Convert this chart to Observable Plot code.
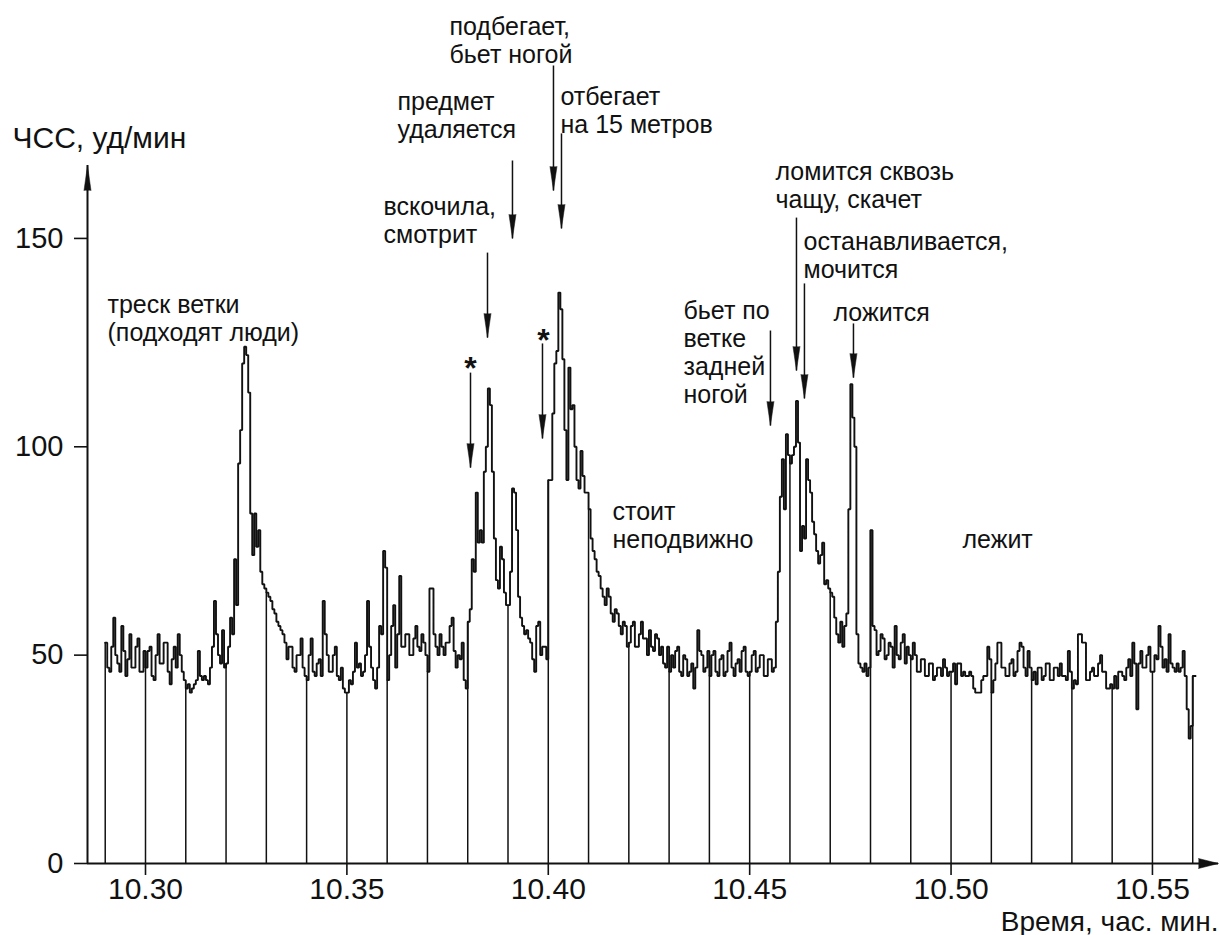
<!DOCTYPE html>
<html>
<head>
<meta charset="utf-8">
<script src="https://cdn.jsdelivr.net/npm/d3@7"></script>
<script src="https://cdn.jsdelivr.net/npm/@observablehq/plot@0.6"></script>
<style>
  html, body { margin: 0; padding: 0; background: #fff; }
  #chart { width: 1220px; height: 935px; }
</style>
</head>
<body>
<div id="chart"></div>
<script>
// ---- data -------------------------------------------------------------
// minute marks (час.мин) and heart-rate samples read every 0.0005 within each minute
const minuteMarks = [10.29, 10.30, 10.31, 10.32, 10.33, 10.34, 10.35, 10.36, 10.37, 10.38,
                     10.39, 10.40, 10.41, 10.42, 10.43, 10.44, 10.45, 10.46, 10.47, 10.48,
                     10.49, 10.50, 10.51, 10.52, 10.53, 10.54, 10.55];
const hrPerMinute = [
  [53, 47, 46, 52, 59, 50, 48, 46, 57, 51, 45, 49, 55, 47, 47, 52, 54, 46, 46, 51],
  [47, 51, 52, 45, 44, 50, 55, 48, 48, 53, 53, 46, 43, 49, 52, 47, 55, 50, 46, 44],
  [42, 43, 41, 42, 43, 44, 51, 45, 44, 45, 44, 43, 47, 52, 63, 55, 50, 48, 56, 47],
  [48, 52, 59, 55, 73, 62, 96, 104, 120, 124, 122, 113, 84, 74, 84, 76, 80, 70, 67, 66],
  [65, 64, 63, 61, 60, 58, 57, 56, 55, 53, 49, 52, 52, 47, 46, 50, 50, 54, 47, 45],
  [44, 50, 54, 46, 45, 48, 49, 45, 63, 55, 50, 46, 46, 50, 52, 45, 44, 47, 42, 41],
  [41, 44, 43, 46, 53, 47, 48, 45, 46, 50, 63, 52, 47, 44, 42, 47, 57, 55, 75, 71],
  [44, 50, 57, 62, 47, 55, 69, 52, 52, 55, 55, 50, 50, 54, 57, 52, 51, 55, 53, 50],
  [46, 66, 66, 55, 52, 50, 55, 52, 50, 53, 53, 57, 59, 51, 47, 50, 49, 53, 44, 42],
  [58, 61, 73, 70, 89, 77, 80, 77, 94, 100, 114, 110, 94, 78, 68, 66, 76, 73, 65, 62],
  [62, 70, 90, 89, 80, 64, 59, 57, 55, 56, 54, 53, 49, 46, 57, 58, 50, 52, 52, 49],
  [92, 92, 108, 120, 123, 137, 133, 121, 104, 92, 119, 109, 110, 100, 92, 90, 99, 93, 89, 89],
  [85, 78, 75, 73, 70, 69, 66, 64, 62, 66, 64, 60, 58, 61, 60, 57, 55, 58, 57, 52],
  [53, 57, 58, 52, 52, 55, 58, 54, 54, 50, 56, 52, 51, 55, 54, 50, 52, 48, 47, 52],
  [46, 50, 47, 51, 52, 46, 45, 50, 49, 45, 46, 48, 42, 47, 56, 51, 50, 46, 47, 51],
  [45, 50, 51, 46, 45, 49, 50, 45, 46, 51, 53, 47, 45, 48, 49, 46, 51, 52, 46, 45],
  [46, 50, 51, 46, 47, 50, 50, 45, 45, 49, 49, 46, 47, 58, 70, 88, 97, 85, 103, 98],
  [96, 98, 100, 111, 101, 75, 81, 78, 97, 92, 89, 82, 79, 75, 72, 74, 77, 67, 68, 66],
  [65, 64, 59, 55, 53, 58, 52, 57, 60, 85, 115, 107, 100, 55, 48, 47, 46, 48, 45, 47],
  [80, 57, 56, 50, 51, 55, 54, 49, 50, 53, 52, 47, 57, 50, 49, 53, 55, 48, 52, 50],
  [49, 53, 50, 46, 46, 49, 49, 45, 45, 48, 48, 44, 45, 47, 47, 45, 49, 47, 45, 46],
  [46, 48, 43, 48, 48, 45, 46, 45, 45, 46, 45, 42, 41, 41, 41, 44, 45, 45, 52, 49],
  [41, 44, 48, 53, 53, 47, 47, 45, 45, 48, 49, 45, 46, 51, 53, 52, 47, 45, 51, 47],
  [44, 46, 43, 47, 47, 44, 45, 48, 48, 44, 44, 47, 47, 45, 48, 45, 45, 44, 51, 46],
  [42, 44, 43, 55, 55, 53, 53, 44, 44, 46, 47, 45, 45, 48, 50, 46, 46, 42, 42, 43],
  [42, 45, 42, 46, 46, 45, 44, 47, 49, 45, 53, 48, 37, 48, 51, 47, 47, 50, 52, 46],
  [46, 50, 49, 57, 52, 47, 49, 46, 55, 48, 47, 46, 48, 46, 47, 51, 45, 37, 30, 33]
];
const sampleStep = 0.0005;
const lastMark = 10.56, lastValue = 45, traceEnd = 10.5607;

const xTicks = [10.30, 10.35, 10.40, 10.45, 10.50, 10.55];
const yTicks = [0, 50, 100, 150];
const xDomain = [10.2856, 10.5664];
const yDomain = [0, 167.5];

// annotations (data units: time, ЧСС) — text baseline of the last line
const notes = [
  {t: 10.29057, v: 125.3, text: "треск ветки\n(подходят люди)"},
  {t: 10.35909, v: 148.8, text: "вскочила,\nсмотрит"},
  {t: 10.36256, v: 174.2, text: "предмет\nудаляется"},
  {t: 10.37547, v: 192.2, text: "подбегает,\nбьет ногой"},
  {t: 10.40303, v: 175.4, text: "отбегает\nна 15 метров"},
  {t: 10.41594, v: 75.6,  text: "стоит\nнеподвижно"},
  {t: 10.43357, v: 110.4, text: "бьет по\nветке\nзадней\nногой"},
  {t: 10.45641, v: 157.4, text: "ломится сквозь\nчащу, скачет"},
  {t: 10.46336, v: 140.4, text: "останавливается,\nмочится"},
  {t: 10.47080, v: 130.3, text: "ложится"},
  {t: 10.50283, v: 75.6,  text: "лежит"}
];
const arrows = [
  {t: 10.40129, from: 191.5, to: 161.5},
  {t: 10.40328, from: 175.2, to: 152.4},
  {t: 10.39111, from: 168.7, to: 150.0},
  {t: 10.38491, from: 146.6, to: 126.2},
  {t: 10.38069, from: 117.8, to: 95.0},
  {t: 10.39856, from: 124.8, to: 102.0},
  {t: 10.46162, from: 155.0, to: 118.3},
  {t: 10.46360, from: 139.2, to: 111.6},
  {t: 10.45516, from: 127.9, to: 105.1},
  {t: 10.47577, from: 129.6, to: 116.6}
];
const stars = [
  {t: 10.38069, v: 116.2},
  {t: 10.39881, v: 122.9}
];
const yTitle = {t: 10.26698, v: 171.8, text: "ЧСС, уд/мин"};
const xTitle = {t: 10.56639, v: -16.1, text: "Время, час. мин."};

// ---- build tables -----------------------------------------------------
const trace = [];
minuteMarks.forEach((m, i) => hrPerMinute[i].forEach((v, k) => trace.push({t: m + k * sampleStep, hr: v})));
trace.push({t: lastMark, hr: lastValue});
trace.push({t: traceEnd, hr: lastValue});

const minuteRules = minuteMarks.map((m, i) => ({t: m, hr: hrPerMinute[i][0]}));
minuteRules.push({t: lastMark, hr: lastValue});

const FONT = "Liberation Sans, Arial, Helvetica, sans-serif";
const INK = "#111";

const chart = Plot.plot({
  width: 1220,
  height: 935,
  marginLeft: 87,
  marginRight: 2,
  marginTop: 165,
  marginBottom: 72,
  style: {fontFamily: FONT, fontSize: "25px", background: "#fff", color: INK, overflow: "visible"},
  x: {domain: xDomain},
  y: {domain: yDomain},
  marks: [
    // axes lines
    Plot.ruleY([yDomain[0]], {stroke: INK, strokeWidth: 2}),
    Plot.ruleX([xDomain[0]], {stroke: INK, strokeWidth: 2}),
    Plot.vector([{t: xDomain[0], v: yDomain[1]}], {x: "t", y: "v", rotate: 0, length: 25, r: 3.5, shape: "spike", anchor: "end", fill: INK, stroke: INK, strokeWidth: 0.5}),
    Plot.vector([{t: xDomain[1], v: yDomain[0]}], {x: "t", y: "v", rotate: 90, length: 20, r: 5, shape: "spike", anchor: "end", fill: INK, stroke: INK, strokeWidth: 0.5}),
    Plot.axisY({ticks: yTicks, tickSize: 13, tickPadding: 11, fontSize: 29, label: null, strokeWidth: 1.6, tickFormat: d => String(d)}),
    Plot.axisX({ticks: xTicks, tickSize: 12, tickPadding: 2, fontSize: 30, label: null, strokeWidth: 1.6, tickFormat: d3.format(".2f")}),
    // minute marker lines
    Plot.ruleX(minuteRules, {x: "t", y1: 0, y2: "hr", stroke: INK, strokeWidth: 1.5}),
    // heart-rate trace
    Plot.line(trace, {x: "t", y: "hr", curve: "step-after", stroke: INK, strokeWidth: 1.9, strokeLinejoin: "miter"}),
    // annotation arrows
    Plot.link(arrows, {x1: "t", x2: "t", y1: "from", y2: "to", stroke: INK, strokeWidth: 1.5}),
    Plot.vector(arrows, {x: "t", y: "to", rotate: 180, length: 24, r: 3.5, shape: "spike", anchor: "end", fill: INK, stroke: INK, strokeWidth: 0.5}),
    Plot.text(stars, {x: "t", y: "v", text: () => "*", fontSize: 32, fontWeight: "bold", textAnchor: "middle", lineAnchor: "bottom", fill: INK}),
    // annotation texts
    Plot.text(notes, {x: "t", y: "v", text: "text", textAnchor: "start", lineAnchor: "bottom", lineHeight: 1.12, fontSize: 25, fill: INK}),
    Plot.text([yTitle], {x: "t", y: "v", text: "text", textAnchor: "start", lineAnchor: "bottom", fontSize: 30, fill: INK}),
    Plot.text([xTitle], {x: "t", y: "v", text: "text", textAnchor: "end", lineAnchor: "bottom", fontSize: 28, fill: INK})
  ]
});
document.getElementById("chart").appendChild(chart);
</script>
</body>
</html>
